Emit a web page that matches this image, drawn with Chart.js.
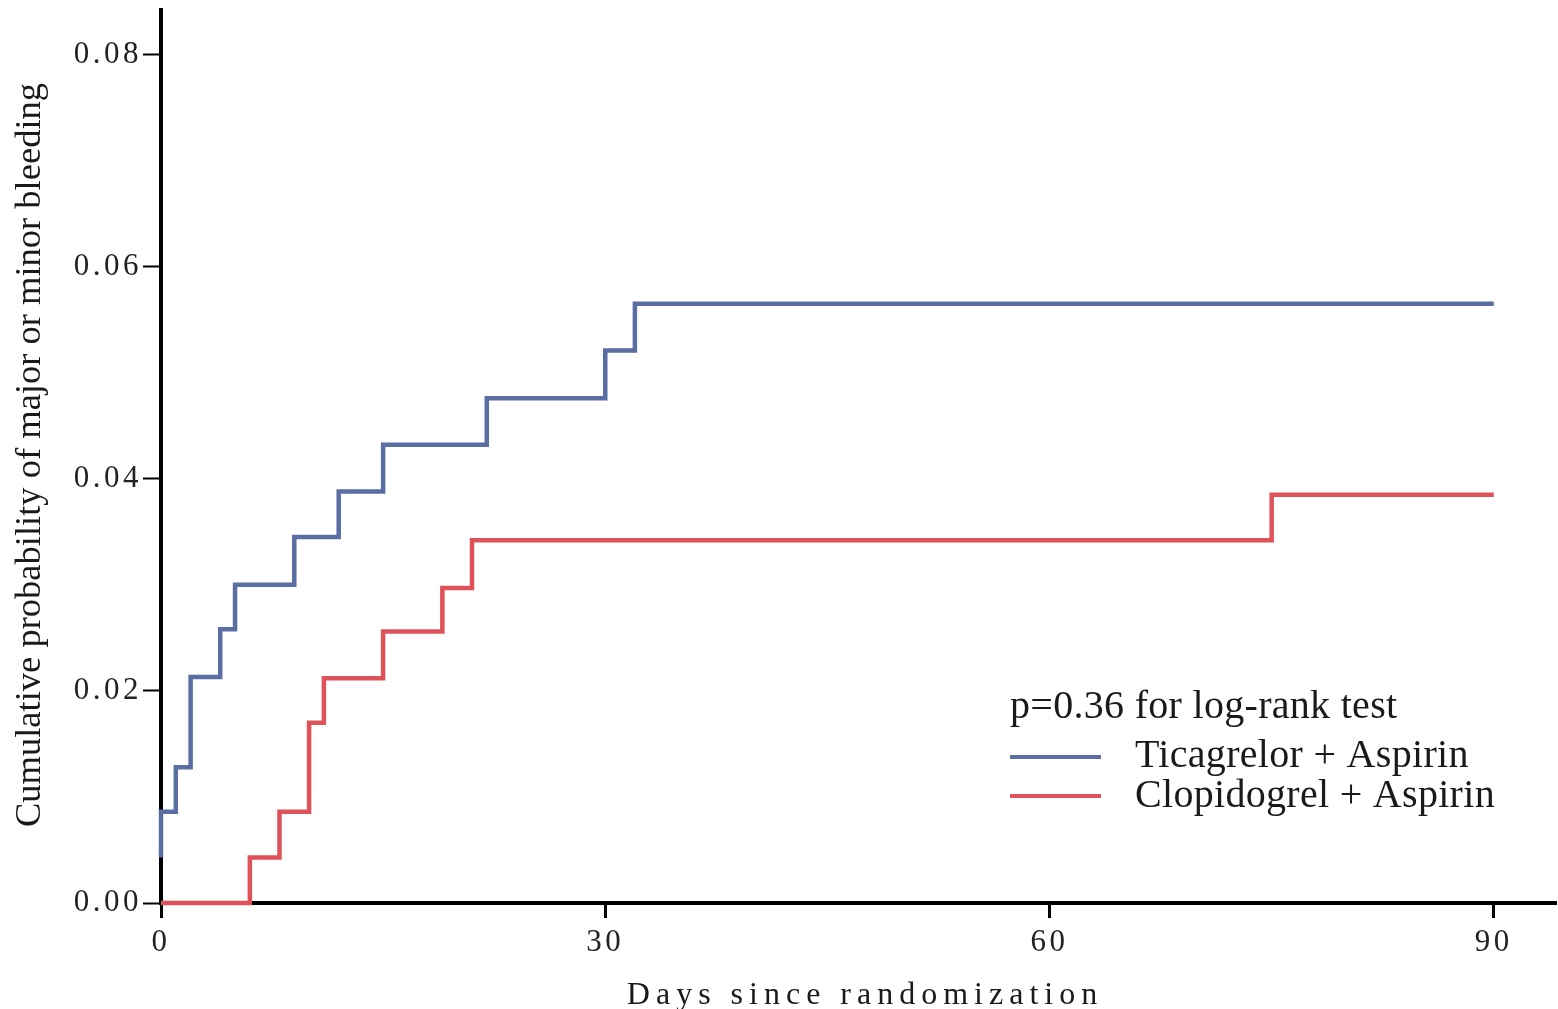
<!DOCTYPE html>
<html>
<head>
<meta charset="utf-8">
<script src="https://cdn.jsdelivr.net/npm/chart.js@4.4.1/dist/chart.umd.min.js"></script>
<style>
    html, body { margin: 0; padding: 0; background: #fff; overflow: hidden; }
    #wrap { width: 1558px; height: 1009px; position: relative; }
</style>
</head>
<body>
<div id="wrap"><canvas id="kmChart"></canvas></div>
<script>
// Kaplan-Meier steps (day of event, cumulative probability after it)
const ticaDays = [0, 0, 1, 2, 4, 5, 9, 12, 15, 22, 30, 32, 90];
const ticaProb = [0.0043, 0.0086, 0.0128, 0.0213, 0.0258, 0.0300, 0.0345, 0.0388, 0.0432, 0.0476, 0.0521, 0.0565, 0.0565];

const clopDays = [0, 6, 8, 10, 11, 15, 19, 21, 75, 90];
const clopProb = [0, 0.0043, 0.0086, 0.0170, 0.0212, 0.0256, 0.0297, 0.0342, 0.0385, 0.0385];

// Axis ticks
const xTicks = [0, 30, 60, 90];
const yTicks = [0, 0.02, 0.04, 0.06, 0.08];

const seriesNames = ['Ticagrelor + Aspirin', 'Clopidogrel + Aspirin'];
const pValueText = 'p=0.36 for log-rank test';

const BLUE = '#5a6ea3';
const RED = '#e0525a';

function toPoints(days, probs) {
    return days.map((d, i) => ({ x: d, y: probs[i] }));
}

// Titles and legend text drawn by hand so letter spacing can match
const textPlugin = {
    id: 'textPlugin',
    beforeDraw(chart) {
        chart.ctx.letterSpacing = '3.5px';
    },
    afterDraw(chart) {
        const ctx = chart.ctx;
        ctx.save();
        ctx.fillStyle = '#1a1a1a';

        // x axis title
        ctx.letterSpacing = '6px';
        ctx.font = '32px "Liberation Serif"';
        ctx.textAlign = 'center';
        ctx.textBaseline = 'alphabetic';
        ctx.fillText('Days since randomization', 865, 1004);

        // y axis title
        ctx.letterSpacing = '0px';
        ctx.save();
        ctx.translate(40, 455);
        ctx.rotate(-Math.PI / 2);
        ctx.font = '36.5px "Liberation Serif"';
        ctx.fillText('Cumulative probability of major or minor bleeding', 0, 0);
        ctx.restore();

        // legend block
        ctx.textAlign = 'left';
        ctx.font = '40px "Liberation Serif"';
        ctx.letterSpacing = '0.3px';
        ctx.fillText(pValueText, 1010, 718);
        ctx.fillText(seriesNames[0], 1135, 767);
        ctx.fillText(seriesNames[1], 1135, 807);

        ctx.lineWidth = 4;
        ctx.strokeStyle = BLUE;
        ctx.beginPath();
        ctx.moveTo(1010, 757);
        ctx.lineTo(1101, 757);
        ctx.stroke();
        ctx.strokeStyle = RED;
        ctx.beginPath();
        ctx.moveTo(1010, 796);
        ctx.lineTo(1101, 796);
        ctx.stroke();

        ctx.restore();
    }
};

const ctx = document.getElementById('kmChart').getContext('2d');
const kmChart = new Chart(ctx, {
    type: 'line',
    data: {
        datasets: [
            {
                label: seriesNames[0],
                data: toPoints(ticaDays, ticaProb),
                borderColor: BLUE,
                borderWidth: 4.5,
                stepped: true,
                pointRadius: 0,
                fill: false,
                clip: false
            },
            {
                label: seriesNames[1],
                data: toPoints(clopDays, clopProb),
                borderColor: RED,
                borderWidth: 4.5,
                stepped: true,
                pointRadius: 0,
                fill: false,
                clip: false
            }
        ]
    },
    options: {
        responsive: true,
        maintainAspectRatio: false,
        animation: false,
        layout: {
            padding: { top: 10, right: 2, left: 0, bottom: 0 }
        },
        plugins: {
            legend: { display: false },
            tooltip: { enabled: false }
        },
        scales: {
            x: {
                type: 'linear',
                min: 0,
                max: 94.2,
                afterBuildTicks: scale => {
                    scale.ticks = xTicks.map(v => ({ value: v }));
                },
                afterFit: scale => {
                    scale.height = 106;
                    scale.paddingLeft = 0;
                    scale.paddingRight = 0;
                },
                grid: {
                    drawOnChartArea: false,
                    drawTicks: true,
                    tickLength: 15,
                    tickWidth: 3,
                    tickColor: '#000'
                },
                border: { display: true, color: '#000', width: 4 },
                ticks: {
                    color: '#222',
                    padding: 6,
                    maxRotation: 0,
                    font: { family: 'Liberation Serif', size: 31 },
                    callback: v => String(v)
                }
            },
            y: {
                type: 'linear',
                min: 0,
                max: 0.0842,
                afterBuildTicks: scale => {
                    scale.ticks = yTicks.map(v => ({ value: v }));
                },
                afterFit: scale => {
                    scale.width = 161;
                    scale.paddingTop = 0;
                    scale.paddingBottom = 0;
                },
                grid: {
                    drawOnChartArea: false,
                    drawTicks: true,
                    tickLength: 18,
                    tickWidth: 2,
                    tickColor: '#000'
                },
                border: { display: true, color: '#000', width: 4 },
                ticks: {
                    color: '#222',
                    padding: 1,
                    font: { family: 'Liberation Serif', size: 31 },
                    callback: v => v.toFixed(2)
                }
            }
        }
    },
    plugins: [textPlugin]
});
</script>
</body>
</html>
